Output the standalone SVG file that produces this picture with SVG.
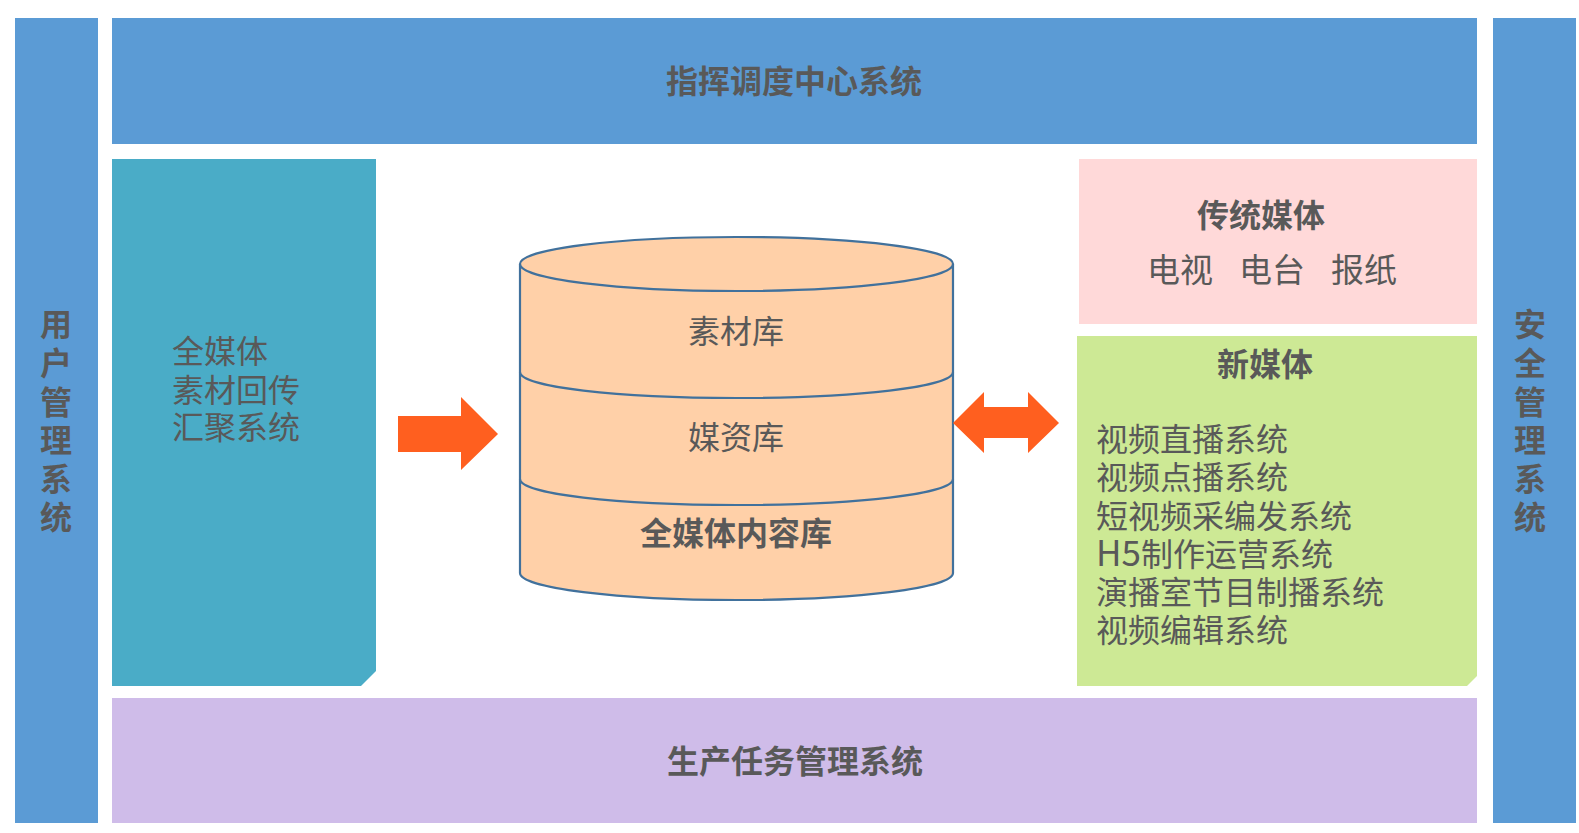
<svg xmlns="http://www.w3.org/2000/svg" width="1579" height="833" viewBox="0 0 1579 833">
<style>
text{font-family:"Noto Sans CJK SC","Microsoft YaHei","Liberation Sans",sans-serif;font-size:32px;fill:#595959}
.b{font-weight:700}
.m{text-anchor:middle}
.blue{fill:#5B9BD5}
.cy{fill:#FFD0A8;stroke:#41719C;stroke-width:2.2}
.line{fill:none;stroke:#41719C;stroke-width:2.2}
.ar{fill:#FF5F1F}
.w{font-size:33px}
.h{font-size:35px}
</style>
<rect width="1579" height="833" fill="#fff"/>
<g id="user-mgmt"><rect class="blue" x="15" y="18" width="83" height="805"/>
<text class="b m"><tspan x="56" y="336">用</tspan><tspan x="56" y="375">户</tspan><tspan x="56" y="414">管</tspan><tspan x="56" y="452">理</tspan><tspan x="56" y="491">系</tspan><tspan x="56" y="529">统</tspan></text></g>
<g id="security-mgmt"><rect class="blue" x="1493" y="18" width="83" height="805"/>
<text class="b m"><tspan x="1530" y="336">安</tspan><tspan x="1530" y="375">全</tspan><tspan x="1530" y="414">管</tspan><tspan x="1530" y="452">理</tspan><tspan x="1530" y="491">系</tspan><tspan x="1530" y="529">统</tspan></text></g>
<g id="dispatch"><rect class="blue" x="112" y="18" width="1365" height="126"/>
<text class="b m" x="794" y="93">指挥调度中心系统</text></g>
<g id="production"><rect x="112" y="698" width="1365" height="125" fill="#CFBCE9"/>
<text class="b m" x="795" y="773">生产任务管理系统</text></g>
<g id="ingest"><path d="M112 159H376V671L361 686H112Z" fill="#4AACC7"/>
<text><tspan x="172" y="363">全媒体</tspan><tspan x="172" y="402">素材回传</tspan><tspan x="172" y="439">汇聚系统</tspan></text></g>
<g id="traditional"><rect x="1079" y="159" width="398" height="165" fill="#FFD9D9"/>
<text class="b m" x="1261" y="227">传统媒体</text>
<text class="w" x="1147" y="282">电视</text><text class="w" x="1239" y="282">电台</text><text class="w" x="1331" y="282">报纸</text></g>
<g id="new-media"><path d="M1077 336H1477V676L1467 686H1077Z" fill="#CDE995"/>
<text class="b m" x="1265" y="376">新媒体</text>
<text><tspan x="1096" y="451">视频直播系统</tspan><tspan x="1096" y="489">视频点播系统</tspan><tspan x="1096" y="528">短视频采编发系统</tspan><tspan x="1096" y="566" class="h">H5</tspan><tspan>制作运营系统</tspan><tspan x="1096" y="604">演播室节目制播系统</tspan><tspan x="1096" y="642">视频编辑系统</tspan></text></g>
<g id="database">
<path class="cy" d="M520 264V573C520 588 617 600 736.500 600S953 588 953 573V264C953 249 856 237 736.500 237S520 249 520 264Z"/>
<path class="line" d="M520 264C520 279 617 291 736.500 291S953 279 953 264"/>
<path class="line" d="M520 372C520 387 617 398 736.500 398S953 387 953 372"/>
<path class="line" d="M520 479C520 494 617 505 736.500 505S953 494 953 479"/>
<text class="m" x="736" y="343">素材库</text>
<text class="m" x="736" y="449">媒资库</text>
<text class="b m" x="736" y="545">全媒体内容库</text>
</g>
<g id="connectors">
<path class="ar" d="M398 416H461V397L498 434L461 470V452H398Z"/>
<path class="ar" d="M953 423L984 392V407H1028V392L1059 423L1028 453V438H984V453Z"/>
</g>
</svg>
